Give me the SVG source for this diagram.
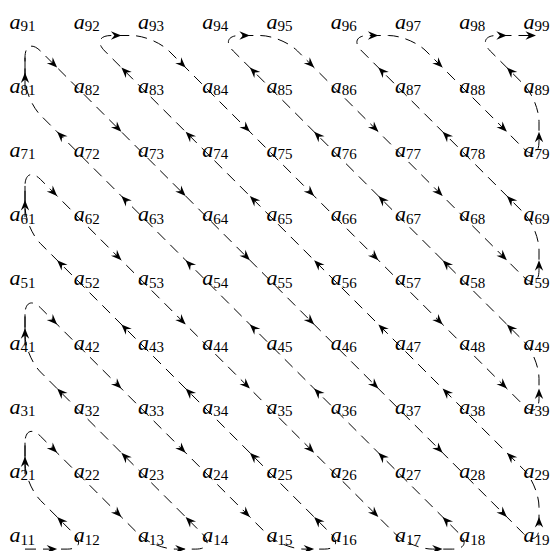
<svg xmlns="http://www.w3.org/2000/svg" xmlns:xlink="http://www.w3.org/1999/xlink" width="553" height="551" viewBox="0 0 553 551">
<style>
text{font-family:"Liberation Serif","Times New Roman",serif;font-size:22px;fill:#000}
.v{font-style:italic}
.s{font-size:15px}
.path{fill:none;stroke:#000;stroke-width:1;stroke-dasharray:11 7}
.solid{fill:none;stroke:#000;stroke-width:1}
.ah{fill:#000;stroke:none}
</style>
<defs>
<path id="ah" class="ah" d="M0,0 L-10.5,-4.2 L-7,0 L-10.5,4.2 Z"/>
</defs>
<g id="labels">
<g id="a91"><text x="9.5" y="28.5"><tspan class="v">a</tspan><tspan class="s" dy="2.5">91</tspan></text></g>
<g id="a92"><text x="73.75" y="28.5"><tspan class="v">a</tspan><tspan class="s" dy="2.5">92</tspan></text></g>
<g id="a93"><text x="138" y="28.5"><tspan class="v">a</tspan><tspan class="s" dy="2.5">93</tspan></text></g>
<g id="a94"><text x="202.25" y="28.5"><tspan class="v">a</tspan><tspan class="s" dy="2.5">94</tspan></text></g>
<g id="a95"><text x="266.5" y="28.5"><tspan class="v">a</tspan><tspan class="s" dy="2.5">95</tspan></text></g>
<g id="a96"><text x="330.75" y="28.5"><tspan class="v">a</tspan><tspan class="s" dy="2.5">96</tspan></text></g>
<g id="a97"><text x="395" y="28.5"><tspan class="v">a</tspan><tspan class="s" dy="2.5">97</tspan></text></g>
<g id="a98"><text x="459.25" y="28.5"><tspan class="v">a</tspan><tspan class="s" dy="2.5">98</tspan></text></g>
<g id="a99"><text x="523.5" y="28.5"><tspan class="v">a</tspan><tspan class="s" dy="2.5">99</tspan></text></g>

<g id="a81"><text x="9.5" y="92.7"><tspan class="v">a</tspan><tspan class="s" dy="2.5">81</tspan></text></g>
<g id="a82"><text x="73.75" y="92.7"><tspan class="v">a</tspan><tspan class="s" dy="2.5">82</tspan></text></g>
<g id="a83"><text x="138" y="92.7"><tspan class="v">a</tspan><tspan class="s" dy="2.5">83</tspan></text></g>
<g id="a84"><text x="202.25" y="92.7"><tspan class="v">a</tspan><tspan class="s" dy="2.5">84</tspan></text></g>
<g id="a85"><text x="266.5" y="92.7"><tspan class="v">a</tspan><tspan class="s" dy="2.5">85</tspan></text></g>
<g id="a86"><text x="330.75" y="92.7"><tspan class="v">a</tspan><tspan class="s" dy="2.5">86</tspan></text></g>
<g id="a87"><text x="395" y="92.7"><tspan class="v">a</tspan><tspan class="s" dy="2.5">87</tspan></text></g>
<g id="a88"><text x="459.25" y="92.7"><tspan class="v">a</tspan><tspan class="s" dy="2.5">88</tspan></text></g>
<g id="a89"><text x="523.5" y="92.7"><tspan class="v">a</tspan><tspan class="s" dy="2.5">89</tspan></text></g>

<g id="a71"><text x="9.5" y="156.9"><tspan class="v">a</tspan><tspan class="s" dy="2.5">71</tspan></text></g>
<g id="a72"><text x="73.75" y="156.9"><tspan class="v">a</tspan><tspan class="s" dy="2.5">72</tspan></text></g>
<g id="a73"><text x="138" y="156.9"><tspan class="v">a</tspan><tspan class="s" dy="2.5">73</tspan></text></g>
<g id="a74"><text x="202.25" y="156.9"><tspan class="v">a</tspan><tspan class="s" dy="2.5">74</tspan></text></g>
<g id="a75"><text x="266.5" y="156.9"><tspan class="v">a</tspan><tspan class="s" dy="2.5">75</tspan></text></g>
<g id="a76"><text x="330.75" y="156.9"><tspan class="v">a</tspan><tspan class="s" dy="2.5">76</tspan></text></g>
<g id="a77"><text x="395" y="156.9"><tspan class="v">a</tspan><tspan class="s" dy="2.5">77</tspan></text></g>
<g id="a78"><text x="459.25" y="156.9"><tspan class="v">a</tspan><tspan class="s" dy="2.5">78</tspan></text></g>
<g id="a79"><text x="523.5" y="156.9"><tspan class="v">a</tspan><tspan class="s" dy="2.5">79</tspan></text></g>

<g id="a61"><text x="9.5" y="221.1"><tspan class="v">a</tspan><tspan class="s" dy="2.5">61</tspan></text></g>
<g id="a62"><text x="73.75" y="221.1"><tspan class="v">a</tspan><tspan class="s" dy="2.5">62</tspan></text></g>
<g id="a63"><text x="138" y="221.1"><tspan class="v">a</tspan><tspan class="s" dy="2.5">63</tspan></text></g>
<g id="a64"><text x="202.25" y="221.1"><tspan class="v">a</tspan><tspan class="s" dy="2.5">64</tspan></text></g>
<g id="a65"><text x="266.5" y="221.1"><tspan class="v">a</tspan><tspan class="s" dy="2.5">65</tspan></text></g>
<g id="a66"><text x="330.75" y="221.1"><tspan class="v">a</tspan><tspan class="s" dy="2.5">66</tspan></text></g>
<g id="a67"><text x="395" y="221.1"><tspan class="v">a</tspan><tspan class="s" dy="2.5">67</tspan></text></g>
<g id="a68"><text x="459.25" y="221.1"><tspan class="v">a</tspan><tspan class="s" dy="2.5">68</tspan></text></g>
<g id="a69"><text x="523.5" y="221.1"><tspan class="v">a</tspan><tspan class="s" dy="2.5">69</tspan></text></g>

<g id="a51"><text x="9.5" y="285.3"><tspan class="v">a</tspan><tspan class="s" dy="2.5">51</tspan></text></g>
<g id="a52"><text x="73.75" y="285.3"><tspan class="v">a</tspan><tspan class="s" dy="2.5">52</tspan></text></g>
<g id="a53"><text x="138" y="285.3"><tspan class="v">a</tspan><tspan class="s" dy="2.5">53</tspan></text></g>
<g id="a54"><text x="202.25" y="285.3"><tspan class="v">a</tspan><tspan class="s" dy="2.5">54</tspan></text></g>
<g id="a55"><text x="266.5" y="285.3"><tspan class="v">a</tspan><tspan class="s" dy="2.5">55</tspan></text></g>
<g id="a56"><text x="330.75" y="285.3"><tspan class="v">a</tspan><tspan class="s" dy="2.5">56</tspan></text></g>
<g id="a57"><text x="395" y="285.3"><tspan class="v">a</tspan><tspan class="s" dy="2.5">57</tspan></text></g>
<g id="a58"><text x="459.25" y="285.3"><tspan class="v">a</tspan><tspan class="s" dy="2.5">58</tspan></text></g>
<g id="a59"><text x="523.5" y="285.3"><tspan class="v">a</tspan><tspan class="s" dy="2.5">59</tspan></text></g>

<g id="a41"><text x="9.5" y="349.5"><tspan class="v">a</tspan><tspan class="s" dy="2.5">41</tspan></text></g>
<g id="a42"><text x="73.75" y="349.5"><tspan class="v">a</tspan><tspan class="s" dy="2.5">42</tspan></text></g>
<g id="a43"><text x="138" y="349.5"><tspan class="v">a</tspan><tspan class="s" dy="2.5">43</tspan></text></g>
<g id="a44"><text x="202.25" y="349.5"><tspan class="v">a</tspan><tspan class="s" dy="2.5">44</tspan></text></g>
<g id="a45"><text x="266.5" y="349.5"><tspan class="v">a</tspan><tspan class="s" dy="2.5">45</tspan></text></g>
<g id="a46"><text x="330.75" y="349.5"><tspan class="v">a</tspan><tspan class="s" dy="2.5">46</tspan></text></g>
<g id="a47"><text x="395" y="349.5"><tspan class="v">a</tspan><tspan class="s" dy="2.5">47</tspan></text></g>
<g id="a48"><text x="459.25" y="349.5"><tspan class="v">a</tspan><tspan class="s" dy="2.5">48</tspan></text></g>
<g id="a49"><text x="523.5" y="349.5"><tspan class="v">a</tspan><tspan class="s" dy="2.5">49</tspan></text></g>

<g id="a31"><text x="9.5" y="413.7"><tspan class="v">a</tspan><tspan class="s" dy="2.5">31</tspan></text></g>
<g id="a32"><text x="73.75" y="413.7"><tspan class="v">a</tspan><tspan class="s" dy="2.5">32</tspan></text></g>
<g id="a33"><text x="138" y="413.7"><tspan class="v">a</tspan><tspan class="s" dy="2.5">33</tspan></text></g>
<g id="a34"><text x="202.25" y="413.7"><tspan class="v">a</tspan><tspan class="s" dy="2.5">34</tspan></text></g>
<g id="a35"><text x="266.5" y="413.7"><tspan class="v">a</tspan><tspan class="s" dy="2.5">35</tspan></text></g>
<g id="a36"><text x="330.75" y="413.7"><tspan class="v">a</tspan><tspan class="s" dy="2.5">36</tspan></text></g>
<g id="a37"><text x="395" y="413.7"><tspan class="v">a</tspan><tspan class="s" dy="2.5">37</tspan></text></g>
<g id="a38"><text x="459.25" y="413.7"><tspan class="v">a</tspan><tspan class="s" dy="2.5">38</tspan></text></g>
<g id="a39"><text x="523.5" y="413.7"><tspan class="v">a</tspan><tspan class="s" dy="2.5">39</tspan></text></g>

<g id="a21"><text x="9.5" y="477.9"><tspan class="v">a</tspan><tspan class="s" dy="2.5">21</tspan></text></g>
<g id="a22"><text x="73.75" y="477.9"><tspan class="v">a</tspan><tspan class="s" dy="2.5">22</tspan></text></g>
<g id="a23"><text x="138" y="477.9"><tspan class="v">a</tspan><tspan class="s" dy="2.5">23</tspan></text></g>
<g id="a24"><text x="202.25" y="477.9"><tspan class="v">a</tspan><tspan class="s" dy="2.5">24</tspan></text></g>
<g id="a25"><text x="266.5" y="477.9"><tspan class="v">a</tspan><tspan class="s" dy="2.5">25</tspan></text></g>
<g id="a26"><text x="330.75" y="477.9"><tspan class="v">a</tspan><tspan class="s" dy="2.5">26</tspan></text></g>
<g id="a27"><text x="395" y="477.9"><tspan class="v">a</tspan><tspan class="s" dy="2.5">27</tspan></text></g>
<g id="a28"><text x="459.25" y="477.9"><tspan class="v">a</tspan><tspan class="s" dy="2.5">28</tspan></text></g>
<g id="a29"><text x="523.5" y="477.9"><tspan class="v">a</tspan><tspan class="s" dy="2.5">29</tspan></text></g>

<g id="a11"><text x="9.5" y="542.1"><tspan class="v">a</tspan><tspan class="s" dy="2.5">11</tspan></text></g>
<g id="a12"><text x="73.75" y="542.1"><tspan class="v">a</tspan><tspan class="s" dy="2.5">12</tspan></text></g>
<g id="a13"><text x="138" y="542.1"><tspan class="v">a</tspan><tspan class="s" dy="2.5">13</tspan></text></g>
<g id="a14"><text x="202.25" y="542.1"><tspan class="v">a</tspan><tspan class="s" dy="2.5">14</tspan></text></g>
<g id="a15"><text x="266.5" y="542.1"><tspan class="v">a</tspan><tspan class="s" dy="2.5">15</tspan></text></g>
<g id="a16"><text x="330.75" y="542.1"><tspan class="v">a</tspan><tspan class="s" dy="2.5">16</tspan></text></g>
<g id="a17"><text x="395" y="542.1"><tspan class="v">a</tspan><tspan class="s" dy="2.5">17</tspan></text></g>
<g id="a18"><text x="459.25" y="542.1"><tspan class="v">a</tspan><tspan class="s" dy="2.5">18</tspan></text></g>
<g id="a19"><text x="523.5" y="542.1"><tspan class="v">a</tspan><tspan class="s" dy="2.5">19</tspan></text></g>
</g>

<g id="connectors">
<path class="path" d="M25,549.1 L67.25,549.1 C79.35,549.1 82.25,542.1 73.69,533.54
L40.56,500.46 C32,491.9 25,475 25,462.9
L25,442.7 C25,430.6 32,427.7 40.56,436.26
L137.94,533.54 C146.5,542.1 163.4,549.1 175.5,549.1
L195.75,549.1 C207.85,549.1 210.75,542.1 202.19,533.54
L40.56,372.06 C32,363.5 25,346.6 25,334.5
L25,314.3 C25,302.2 32,299.3 40.56,307.86
L266.44,533.54 C275,542.1 291.9,549.1 304,549.1
L324.25,549.1 C336.35,549.1 339.25,542.1 330.69,533.54
L40.56,243.66 C32,235.1 25,218.2 25,206.1
L25,185.9 C25,173.8 32,170.9 40.56,179.46
L394.94,533.54 C403.5,542.1 420.4,549.1 432.5,549.1
L452.75,549.1 C464.85,549.1 467.75,542.1 459.19,533.54
L40.56,115.26 C32,106.7 25,89.8 25,77.7
L25,57.5 C25,45.4 32,42.5 40.56,51.06
L523.44,533.54 C532,542.1 539,539.2 539,527.1
L539,506.9 C539,494.8 532,477.9 523.44,469.34
L104.81,51.06 C96.25,42.5 99.15,35.5 111.25,35.5
L131.5,35.5 C143.6,35.5 160.5,42.5 169.06,51.06
L523.44,405.14 C532,413.7 539,410.8 539,398.7
L539,378.5 C539,366.4 532,349.5 523.44,340.94
L233.31,51.06 C224.75,42.5 227.65,35.5 239.75,35.5
L260,35.5 C272.1,35.5 289,42.5 297.56,51.06
L523.44,276.74 C532,285.3 539,282.4 539,270.3
L539,250.1 C539,238 532,221.1 523.44,212.54
L361.81,51.06 C353.25,42.5 356.15,35.5 368.25,35.5
L388.5,35.5 C400.6,35.5 417.5,42.5 426.06,51.06
L523.44,148.34 C532,156.9 539,154 539,141.9
L539,121.7 C539,109.6 532,92.7 523.44,84.14
L490.31,51.06 C481.75,42.5 484.65,35.5 496.75,35.5
L532,35.5"/>
<path class="solid" d="M25,442.7 V473.9 M25,314.3 V345.5 M25,185.9 V217.1 M25,57.5 V88.7"/>
<use xlink:href="#ah" transform="translate(57.125,549.1)"/>
<use xlink:href="#ah" transform="translate(57.125,517) rotate(-135)"/>
<use xlink:href="#ah" transform="translate(25,456.5) rotate(-90)"/>
<use xlink:href="#ah" transform="translate(57.125,452.8) rotate(45)"/>
<use xlink:href="#ah" transform="translate(121.375,517) rotate(45)"/>
<use xlink:href="#ah" transform="translate(185.625,549.1)"/>
<use xlink:href="#ah" transform="translate(185.625,517) rotate(-135)"/>
<use xlink:href="#ah" transform="translate(121.375,452.8) rotate(-135)"/>
<use xlink:href="#ah" transform="translate(57.125,388.6) rotate(-135)"/>
<use xlink:href="#ah" transform="translate(25,328.3) rotate(-90)"/>
<use xlink:href="#ah" transform="translate(57.125,324.4) rotate(45)"/>
<use xlink:href="#ah" transform="translate(121.375,388.6) rotate(45)"/>
<use xlink:href="#ah" transform="translate(185.625,452.8) rotate(45)"/>
<use xlink:href="#ah" transform="translate(249.875,517) rotate(45)"/>
<use xlink:href="#ah" transform="translate(314.125,549.1)"/>
<use xlink:href="#ah" transform="translate(314.125,517) rotate(-135)"/>
<use xlink:href="#ah" transform="translate(249.875,452.8) rotate(-135)"/>
<use xlink:href="#ah" transform="translate(185.625,388.6) rotate(-135)"/>
<use xlink:href="#ah" transform="translate(121.375,324.4) rotate(-135)"/>
<use xlink:href="#ah" transform="translate(57.125,260.2) rotate(-135)"/>
<use xlink:href="#ah" transform="translate(25,200.1) rotate(-90)"/>
<use xlink:href="#ah" transform="translate(57.125,196) rotate(45)"/>
<use xlink:href="#ah" transform="translate(121.375,260.2) rotate(45)"/>
<use xlink:href="#ah" transform="translate(185.625,324.4) rotate(45)"/>
<use xlink:href="#ah" transform="translate(249.875,388.6) rotate(45)"/>
<use xlink:href="#ah" transform="translate(314.125,452.8) rotate(45)"/>
<use xlink:href="#ah" transform="translate(378.375,517) rotate(45)"/>
<use xlink:href="#ah" transform="translate(442.625,549.1)"/>
<use xlink:href="#ah" transform="translate(442.625,517) rotate(-135)"/>
<use xlink:href="#ah" transform="translate(378.375,452.8) rotate(-135)"/>
<use xlink:href="#ah" transform="translate(314.125,388.6) rotate(-135)"/>
<use xlink:href="#ah" transform="translate(249.875,324.4) rotate(-135)"/>
<use xlink:href="#ah" transform="translate(185.625,260.2) rotate(-135)"/>
<use xlink:href="#ah" transform="translate(121.375,196) rotate(-135)"/>
<use xlink:href="#ah" transform="translate(57.125,131.8) rotate(-135)"/>
<use xlink:href="#ah" transform="translate(25,72.5) rotate(-90)"/>
<use xlink:href="#ah" transform="translate(57.125,67.6) rotate(45)"/>
<use xlink:href="#ah" transform="translate(121.375,131.8) rotate(45)"/>
<use xlink:href="#ah" transform="translate(185.625,196) rotate(45)"/>
<use xlink:href="#ah" transform="translate(249.875,260.2) rotate(45)"/>
<use xlink:href="#ah" transform="translate(314.125,324.4) rotate(45)"/>
<use xlink:href="#ah" transform="translate(378.375,388.6) rotate(45)"/>
<use xlink:href="#ah" transform="translate(442.625,452.8) rotate(45)"/>
<use xlink:href="#ah" transform="translate(506.875,517) rotate(45)"/>
<use xlink:href="#ah" transform="translate(539,517) rotate(-90)"/>
<use xlink:href="#ah" transform="translate(506.875,452.8) rotate(-135)"/>
<use xlink:href="#ah" transform="translate(442.625,388.6) rotate(-135)"/>
<use xlink:href="#ah" transform="translate(378.375,324.4) rotate(-135)"/>
<use xlink:href="#ah" transform="translate(314.125,260.2) rotate(-135)"/>
<use xlink:href="#ah" transform="translate(249.875,196) rotate(-135)"/>
<use xlink:href="#ah" transform="translate(185.625,131.8) rotate(-135)"/>
<use xlink:href="#ah" transform="translate(121.375,67.6) rotate(-135)"/>
<use xlink:href="#ah" transform="translate(121.375,35.5)"/>
<use xlink:href="#ah" transform="translate(185.625,67.6) rotate(45)"/>
<use xlink:href="#ah" transform="translate(249.875,131.8) rotate(45)"/>
<use xlink:href="#ah" transform="translate(314.125,196) rotate(45)"/>
<use xlink:href="#ah" transform="translate(378.375,260.2) rotate(45)"/>
<use xlink:href="#ah" transform="translate(442.625,324.4) rotate(45)"/>
<use xlink:href="#ah" transform="translate(506.875,388.6) rotate(45)"/>
<use xlink:href="#ah" transform="translate(539,388.6) rotate(-90)"/>
<use xlink:href="#ah" transform="translate(506.875,324.4) rotate(-135)"/>
<use xlink:href="#ah" transform="translate(442.625,260.2) rotate(-135)"/>
<use xlink:href="#ah" transform="translate(378.375,196) rotate(-135)"/>
<use xlink:href="#ah" transform="translate(314.125,131.8) rotate(-135)"/>
<use xlink:href="#ah" transform="translate(249.875,67.6) rotate(-135)"/>
<use xlink:href="#ah" transform="translate(249.875,35.5)"/>
<use xlink:href="#ah" transform="translate(314.125,67.6) rotate(45)"/>
<use xlink:href="#ah" transform="translate(378.375,131.8) rotate(45)"/>
<use xlink:href="#ah" transform="translate(442.625,196) rotate(45)"/>
<use xlink:href="#ah" transform="translate(506.875,260.2) rotate(45)"/>
<use xlink:href="#ah" transform="translate(539,260.2) rotate(-90)"/>
<use xlink:href="#ah" transform="translate(506.875,196) rotate(-135)"/>
<use xlink:href="#ah" transform="translate(442.625,131.8) rotate(-135)"/>
<use xlink:href="#ah" transform="translate(378.375,67.6) rotate(-135)"/>
<use xlink:href="#ah" transform="translate(378.375,35.5)"/>
<use xlink:href="#ah" transform="translate(442.625,67.6) rotate(45)"/>
<use xlink:href="#ah" transform="translate(506.875,131.8) rotate(45)"/>
<use xlink:href="#ah" transform="translate(539,131.8) rotate(-90)"/>
<use xlink:href="#ah" transform="translate(506.875,67.6) rotate(-135)"/>
<use xlink:href="#ah" transform="translate(506.875,35.5)"/>
<use xlink:href="#ah" transform="translate(536,35.5)"/>
</g>
</svg>
